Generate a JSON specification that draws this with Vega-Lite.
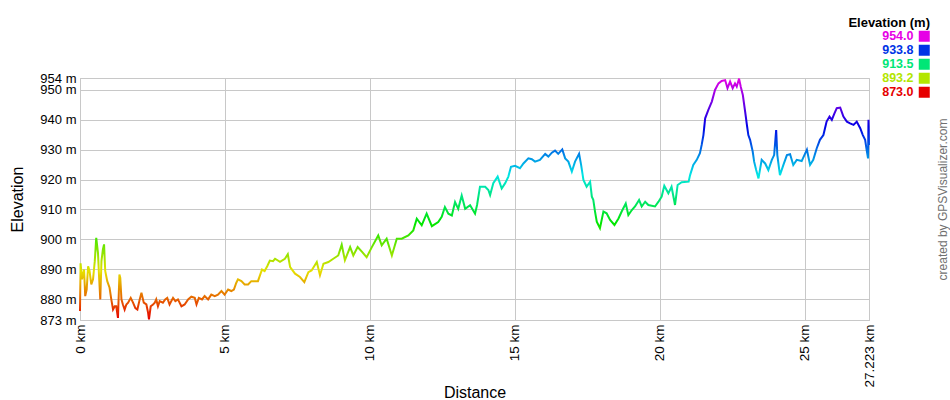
{
  "$schema": "https://vega.github.io/schema/vega-lite/v6.json",
  "width": 789,
  "height": 242,
  "autosize": {"type": "none"},
  "padding": {"left": 80, "top": 78, "right": 81, "bottom": 80},
  "config": {
    "font": "Liberation Sans",
    "view": {"stroke": "#c8c8c8", "strokeWidth": 1},
    "axis": {"gridColor": "#c8c8c8", "domainColor": "#c8c8c8", "ticks": false, "tickSize": 0, "labelFont": "Liberation Sans", "labelFontSize": 13.5, "labelColor": "#000000", "labelOverlap": false, "titleFont": "Liberation Sans", "titleFontSize": 16, "titleFontWeight": "normal", "titleColor": "#000000"},
    "legend": {"padding": 0}
  },
  "datasets": {
    "profile": [
      {"km":0,"m":876},{"km":0.02,"m":892},{"km":0.07,"m":886.6},{"km":0.14,"m":889.9},{"km":0.18,"m":881},{"km":0.23,"m":883.2},{"km":0.28,"m":891},{"km":0.33,"m":889.4},{"km":0.39,"m":884.9},{"km":0.45,"m":886.6},{"km":0.51,"m":892.7},{"km":0.56,"m":900.5},{"km":0.62,"m":895.5},{"km":0.66,"m":887.1},{"km":0.70,"m":879.9},{"km":0.74,"m":892.7},{"km":0.79,"m":896.6},{"km":0.83,"m":898.3},{"km":0.87,"m":889.4},{"km":0.94,"m":886},{"km":1.02,"m":883.8},{"km":1.08,"m":879.9},{"km":1.14,"m":876.5},{"km":1.2,"m":877.6},{"km":1.25,"m":877.6},{"km":1.31,"m":873.7},{"km":1.36,"m":888.2},{"km":1.39,"m":887.1},{"km":1.43,"m":879.9},{"km":1.48,"m":878.2},{"km":1.54,"m":876.5},{"km":1.6,"m":878.2},{"km":1.66,"m":878.8},{"km":1.75,"m":880.4},{"km":1.83,"m":878.8},{"km":1.91,"m":877},{"km":1.98,"m":876.5},{"km":2.06,"m":879.9},{"km":2.12,"m":882.1},{"km":2.2,"m":878.8},{"km":2.29,"m":878.2},{"km":2.35,"m":875.4},{"km":2.38,"m":873.2},{"km":2.44,"m":877.6},{"km":2.52,"m":878.2},{"km":2.58,"m":878.8},{"km":2.63,"m":879.9},{"km":2.69,"m":877.6},{"km":2.75,"m":879.3},{"km":2.86,"m":878.8},{"km":2.94,"m":879.9},{"km":3.01,"m":880.4},{"km":3.09,"m":878.2},{"km":3.21,"m":880.4},{"km":3.29,"m":879.3},{"km":3.38,"m":879.9},{"km":3.5,"m":877.6},{"km":3.61,"m":878.2},{"km":3.73,"m":879.9},{"km":3.84,"m":880.8},{"km":3.96,"m":880.4},{"km":4.02,"m":878.2},{"km":4.1,"m":880.4},{"km":4.21,"m":879.9},{"km":4.3,"m":881},{"km":4.42,"m":879.9},{"km":4.53,"m":881.5},{"km":4.65,"m":881},{"km":4.76,"m":881.5},{"km":4.88,"m":882.7},{"km":4.99,"m":881.5},{"km":5.11,"m":883.2},{"km":5.22,"m":882.7},{"km":5.31,"m":883.2},{"km":5.39,"m":885.4},{"km":5.45,"m":886.6},{"km":5.57,"m":886},{"km":5.68,"m":884.9},{"km":5.8,"m":884.9},{"km":5.91,"m":886},{"km":6.03,"m":886},{"km":6.14,"m":886},{"km":6.2,"m":887.7},{"km":6.28,"m":889.9},{"km":6.37,"m":889.4},{"km":6.46,"m":891},{"km":6.55,"m":892.9},{"km":6.66,"m":892.7},
      {"km":6.73,"m":893.5},{"km":6.9,"m":892.5},{"km":7.07,"m":893.5},{"km":7.17,"m":895},{"km":7.25,"m":890.7},{"km":7.42,"m":888.5},{"km":7.59,"m":887.4},{"km":7.74,"m":885.7},{"km":7.88,"m":889},{"km":7.99,"m":889.6},{"km":8.17,"m":892.4},{"km":8.28,"m":888},{"km":8.4,"m":891.8},{"km":8.57,"m":892.4},{"km":8.74,"m":893.5},{"km":8.91,"m":894.6},{"km":9.03,"m":898.2},{"km":9.14,"m":893},{"km":9.32,"m":897.4},{"km":9.43,"m":894.6},{"km":9.58,"m":897.4},{"km":9.74,"m":895.7},{"km":9.89,"m":894},{"km":10.07,"m":897.4},{"km":10.29,"m":901.3},{"km":10.41,"m":898},{"km":10.58,"m":900.2},{"km":10.76,"m":894.6},{"km":10.93,"m":900.2},{"km":11.1,"m":900.2},{"km":11.33,"m":901.3},{"km":11.5,"m":903},{"km":11.62,"m":906.9},{"km":11.79,"m":904.7},{"km":11.96,"m":908.6},{"km":12.14,"m":904.4},{"km":12.36,"m":905.8},{"km":12.48,"m":907.5},{"km":12.59,"m":910.8},{"km":12.71,"m":908.6},{"km":12.83,"m":908},{"km":12.94,"m":912.5},{"km":13.05,"m":910.2},{"km":13.17,"m":914.7},{"km":13.29,"m":910.2},{"km":13.46,"m":911.4},{"km":13.63,"m":908.6},{"km":13.7,"m":911.5},{"km":13.8,"m":917.6},{"km":13.98,"m":917.6},{"km":14.09,"m":916.5},{"km":14.15,"m":914.8},{"km":14.26,"m":918.8},{"km":14.41,"m":921},{"km":14.55,"m":917},{"km":14.67,"m":918.8},{"km":14.78,"m":921},{"km":14.87,"m":924.3},{"km":15.01,"m":924.6},{"km":15.18,"m":923.8},{"km":15.3,"m":925.4},{"km":15.47,"m":927.1},{"km":15.59,"m":926.8},{"km":15.7,"m":926},{"km":15.87,"m":926.6},{"km":16.05,"m":928.6},{"km":16.16,"m":927.7},{"km":16.28,"m":929},{"km":16.39,"m":929.7},{"km":16.5,"m":928.6},{"km":16.64,"m":930.1},{"km":16.74,"m":927.1},{"km":16.85,"m":926},{"km":16.97,"m":922.7},{"km":17.08,"m":926},{"km":17.22,"m":928.6},{"km":17.29,"m":924.9},{"km":17.37,"m":919.9},{"km":17.48,"m":917.6},{"km":17.6,"m":919.3},{"km":17.66,"m":914.3},{"km":17.71,"m":913.2},{"km":17.77,"m":909.3},{"km":17.83,"m":905.9},{"km":17.94,"m":903.7},{"km":18.06,"m":909.3},{"km":18.17,"m":908.7},{"km":18.29,"m":906.5},{"km":18.44,"m":904.8},{"km":18.58,"m":907},{"km":18.69,"m":909.3},{"km":18.83,"m":912},{"km":18.92,"m":908.1},{"km":19.04,"m":909.8},{"km":19.15,"m":911},{"km":19.29,"m":913.2},{"km":19.38,"m":911},{"km":19.5,"m":912.6},{"km":19.61,"m":911.5},{"km":19.84,"m":911},{"km":19.96,"m":912.6},{"km":20.07,"m":914.3},{"km":20.16,"m":917.9},{"km":20.3,"m":915.4},{"km":20.41,"m":917.6},{"km":20.53,"m":911.5},{"km":20.62,"m":918.2},{"km":20.76,"m":919.1},{"km":21.0,"m":919.3},{"km":21.05,"m":921.5},{"km":21.16,"m":924.9},{"km":21.28,"m":926.6},{"km":21.39,"m":928.8},{"km":21.45,"m":931.6},{"km":21.51,"m":934.9},{"km":21.57,"m":940.5},{"km":21.68,"m":943.3},{"km":21.8,"m":946.1},{"km":21.91,"m":950},{"km":22.03,"m":952.2},{"km":22.14,"m":953},{"km":22.26,"m":953.3},{"km":22.34,"m":950.6},{"km":22.43,"m":952.8},{"km":22.52,"m":950.6},{"km":22.6,"m":952.2},{"km":22.66,"m":951.1},{"km":22.74,"m":953.8},{"km":22.8,"m":951},{"km":22.87,"m":948.3},{"km":22.95,"m":942.7},{"km":23.01,"m":938.3},{"km":23.06,"m":934.9},{"km":23.12,"m":933.3},{"km":23.21,"m":929.4},{"km":23.26,"m":926},{"km":23.33,"m":923.2},{"km":23.41,"m":920.4},{"km":23.52,"m":926.6},{"km":23.64,"m":925.4},{"km":23.75,"m":923.2},{"km":23.87,"m":926.6},{"km":23.95,"m":928.2},{"km":24.02,"m":936.6},{"km":24.06,"m":928.2},{"km":24.15,"m":921.5},{"km":24.27,"m":924.9},{"km":24.39,"m":928.2},{"km":24.5,"m":928.5},{"km":24.61,"m":924.9},{"km":24.73,"m":926.6},{"km":24.9,"m":926.2},{"km":25.08,"m":930},{"km":25.19,"m":924.9},{"km":25.3,"m":926.6},{"km":25.42,"m":930.5},{"km":25.53,"m":933.3},{"km":25.65,"m":934.9},{"km":25.76,"m":939.4},{"km":25.86,"m":941.1},{"km":25.94,"m":940},{"km":26.02,"m":941.9},{"km":26.11,"m":943.9},{"km":26.23,"m":944.1},{"km":26.34,"m":941.1},{"km":26.46,"m":939.4},{"km":26.57,"m":938.8},{"km":26.69,"m":938.3},{"km":26.8,"m":939.4},{"km":26.92,"m":937.2},{"km":27.01,"m":934.9},{"km":27.09,"m":933.3},{"km":27.14,"m":930},{"km":27.19,"m":927.1},{"km":27.205,"m":940},{"km":27.223,"m":931.6}
    ],
    "legend": [
      {"label": "954.0", "m": 954},
      {"label": "933.8", "m": 933.8},
      {"label": "913.5", "m": 913.5},
      {"label": "893.2", "m": 893.2},
      {"label": "873.0", "m": 873}
    ]
  },
  "resolve": {"axis": {"y": "independent"}},
  "layer": [
    {
      "data": {"name": "profile"},
      "mark": {
        "type": "line",
        "strokeWidth": 2,
        "color": {
          "gradient": "linear", "x1": 0, "y1": 1, "x2": 0, "y2": 0,
          "stops": [
            {"offset": 0, "color": "#e60000"},
            {"offset": 0.1, "color": "#e67300"},
            {"offset": 0.2, "color": "#e6e000"},
            {"offset": 0.3, "color": "#73e600"},
            {"offset": 0.4, "color": "#00e600"},
            {"offset": 0.5, "color": "#00e673"},
            {"offset": 0.6, "color": "#00e6e6"},
            {"offset": 0.7, "color": "#0073e6"},
            {"offset": 0.8, "color": "#0000e6"},
            {"offset": 0.9, "color": "#7300e6"},
            {"offset": 1, "color": "#e600e6"}
          ]
        }
      },
      "encoding": {
        "x": {
          "field": "km", "type": "quantitative",
          "scale": {"domain": [0, 27.223], "nice": false, "zero": false},
          "axis": {"values": [0, 5, 10, 15, 20, 25, 27.223], "labelExpr": "datum.value + ' km'", "labelAngle": 270, "labelPadding": 4, "title": "Distance", "titleY": 77, "titleBaseline": "alphabetic", "grid": true}
        },
        "y": {
          "field": "m", "type": "quantitative",
          "scale": {"domain": [873, 954], "nice": false, "zero": false},
          "axis": {"values": [873, 880, 890, 900, 910, 920, 930, 940, 950, 954], "labelExpr": "datum.value + ' m'", "labelFontSize": 13, "labelPadding": 4, "title": "Elevation", "titlePadding": 14, "grid": true}
        }
      }
    },
    {
      "data": {"name": "legend"},
      "mark": {"type": "square", "opacity": 0, "filled": true},
      "encoding": {
        "y": {
          "field": "m", "type": "quantitative",
          "scale": {"domain": [873, 954], "nice": false, "zero": false},
          "axis": {"orient": "right", "labels": false, "domain": false, "grid": false, "ticks": false, "title": "created by GPSVisualizer.com", "titleAngle": 270, "titleFontSize": 12, "titleColor": "#707070", "titlePadding": 80}
        },
        "color": {
          "field": "label", "type": "nominal", "sort": null,
          "scale": {"domain": ["954.0", "933.8", "913.5", "893.2", "873.0"], "range": ["#e600e6", "#0033e6", "#00e676", "#b3e600", "#e60000"]},
          "legend": {
            "orient": "none", "legendX": 768, "legendY": -61,
            "title": "Elevation (m)", "titleFontSize": 13, "titleFontWeight": "bold", "titleColor": "#000000", "titleAnchor": "end", "titleAlign": "right", "titlePadding": 0,
            "symbolType": "square", "symbolSize": 121, "symbolOpacity": 1, "symbolStrokeWidth": 0,
            "labelFontSize": 12.5, "labelFontWeight": "bold", "labelAlign": "right", "labelOffset": -17,
            "labelColor": {"expr": "scale('color', datum.value)"},
            "rowPadding": 1
          }
        }
      }
    }
  ]
}
